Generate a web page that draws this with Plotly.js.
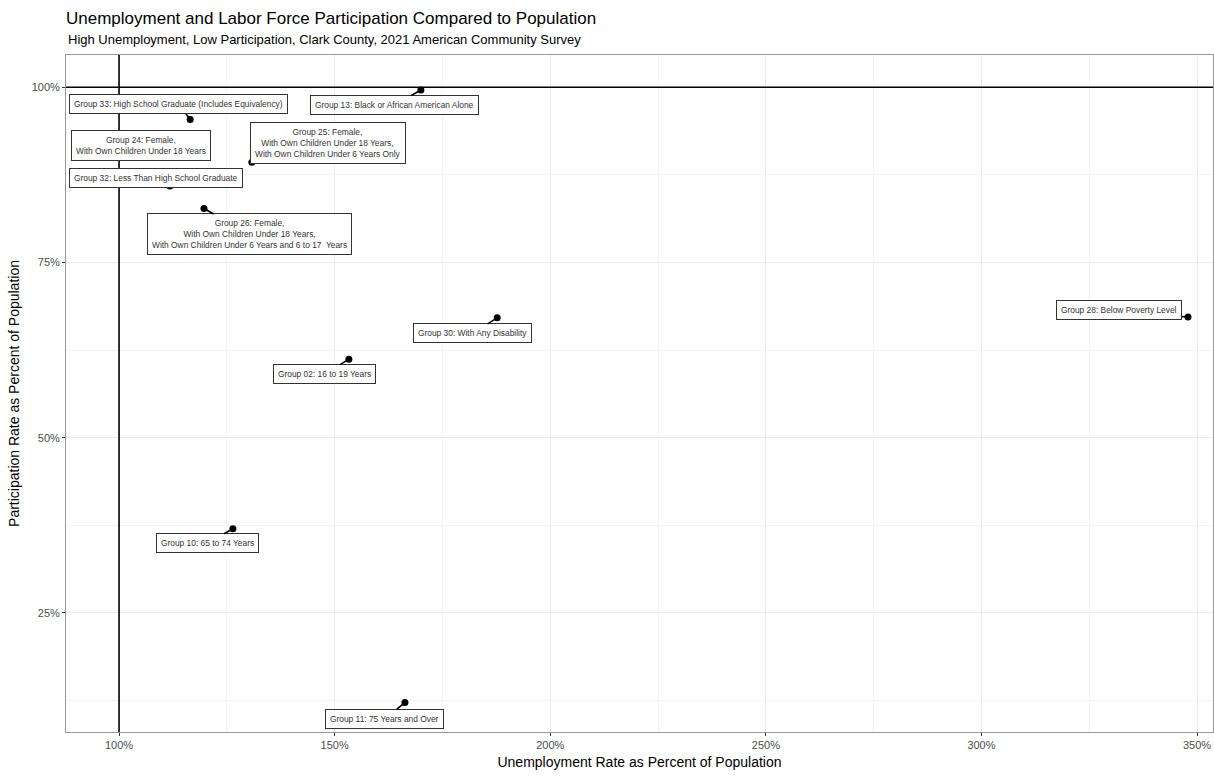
<!DOCTYPE html>
<html>
<head>
<meta charset="utf-8">
<script src="https://cdn.plot.ly/plotly-3.0.1.min.js"></script>
<style>html,body{margin:0;padding:0;background:#fff;}#chart{width:1214px;height:776px;}</style>
</head>
<body>
<div id="chart"></div>
<script>
// Data (percent of population)
const groups = [
  "Group 13: Black or African American Alone",
  "Group 33: High School Graduate (Includes Equivalency)",
  "Group 24: Female,<br>With Own Children Under 18 Years",
  "Group 25: Female,<br>With Own Children Under 18 Years,<br>With Own Children Under 6 Years Only",
  "Group 32: Less Than High School Graduate",
  "Group 26: Female,<br>With Own Children Under 18 Years,<br>With Own Children Under 6 Years and 6 to 17  Years",
  "Group 30: With Any Disability",
  "Group 02: 16 to 19 Years",
  "Group 28: Below Poverty Level",
  "Group 10: 65 to 74 Years",
  "Group 11: 75 Years and Over"
];
const unemployment = [170.0, 116.5, 105.0, 130.8, 111.8, 119.7, 187.7, 153.3, 347.9, 126.4, 166.3];
const participation = [99.6, 95.4, 91.0, 89.3, 85.9, 82.7, 67.1, 61.2, 67.2, 37.0, 12.2];
// label offsets in pixels (layout only)
const labelDX = [-26, -11.5, 0, 76.5, -13.5, 46, -25, -24, -69, -25.5, -20];
const labelDY = [15, -15, -5, -19, -8.5, 26, 15.5, 15, -7, 14.5, 16];

const xTicks = [100, 150, 200, 250, 300, 350];
const yTicks = [25, 50, 75, 100];

const trace = {
  type: 'scatter', mode: 'markers',
  x: unemployment, y: participation,
  marker: {color: '#000', size: 7},
  hoverinfo: 'text', text: groups, showlegend: false
};

const annotations = groups.map((g, i) => ({
  x: unemployment[i], y: participation[i], xref: 'x', yref: 'y',
  text: g, showarrow: true, ax: labelDX[i], ay: labelDY[i],
  arrowhead: 0, arrowwidth: 1.6, arrowcolor: '#000', standoff: 0, startstandoff: 0,
  font: {family: 'Liberation Sans, Arial, sans-serif', size: 8.4, color: '#333'},
  bgcolor: '#fff', bordercolor: '#333', borderwidth: 1, borderpad: 4, align: 'center'
}));

annotations.push({
  xref: 'paper', yref: 'paper', x: 0, y: 1.0222, xanchor: 'left', yanchor: 'middle',
  showarrow: false,
  text: 'High Unemployment, Low Participation, Clark County, 2021 American Community Survey',
  font: {family: 'Liberation Sans, Arial, sans-serif', size: 13, color: '#000'}
});

const layout = {
  width: 1214, height: 776,
  margin: {l: 66, r: 1, t: 55, b: 44},
  paper_bgcolor: '#fff', plot_bgcolor: '#fff',
  font: {family: 'Liberation Sans, Arial, sans-serif'},
  title: {
    text: 'Unemployment and Labor Force Participation Compared to Population',
    font: {size: 17, color: '#000'},
    x: 0, xref: 'paper', xanchor: 'left', y: 0.985, yanchor: 'top'
  },
  xaxis: {
    range: [87.7, 353.7], tickvals: xTicks, ticktext: xTicks.map(v => v + '%'),
    showgrid: true, gridcolor: '#ebebeb', gridwidth: 1,
    minor: {dtick: 25, tick0: 75, showgrid: true, gridcolor: '#f4f4f4', gridwidth: 1},
    ticks: 'outside', ticklen: 3, tickcolor: '#333', tickfont: {size: 11, color: '#4d4d4d'},
    showline: true, linecolor: '#999', linewidth: 1, mirror: true, zeroline: false,
    title: {text: 'Unemployment Rate as Percent of Population', font: {size: 14, color: '#000'}, standoff: 6}
  },
  yaxis: {
    range: [8.0, 104.6], tickvals: yTicks, ticktext: yTicks.map(v => v + '%'),
    showgrid: true, gridcolor: '#ebebeb', gridwidth: 1,
    minor: {dtick: 25, tick0: 12.5, showgrid: true, gridcolor: '#f4f4f4', gridwidth: 1},
    ticks: 'outside', ticklen: 3, tickcolor: '#333', tickfont: {size: 11, color: '#4d4d4d'},
    showline: true, linecolor: '#999', linewidth: 1, mirror: true, zeroline: false,
    title: {text: 'Participation Rate as Percent of Population', font: {size: 14, color: '#000'}, standoff: 8}
  },
  shapes: [
    {type: 'line', xref: 'paper', x0: 0, x1: 1, yref: 'y', y0: 100, y1: 100, line: {color: '#000', width: 1.6}, layer: 'above'},
    {type: 'line', yref: 'paper', y0: 0, y1: 1, xref: 'x', x0: 100, x1: 100, line: {color: '#000', width: 1.6}, layer: 'above'}
  ],
  annotations: annotations
};

Plotly.newPlot('chart', [trace], layout, {displayModeBar: false, staticPlot: true});
</script>
</body>
</html>
